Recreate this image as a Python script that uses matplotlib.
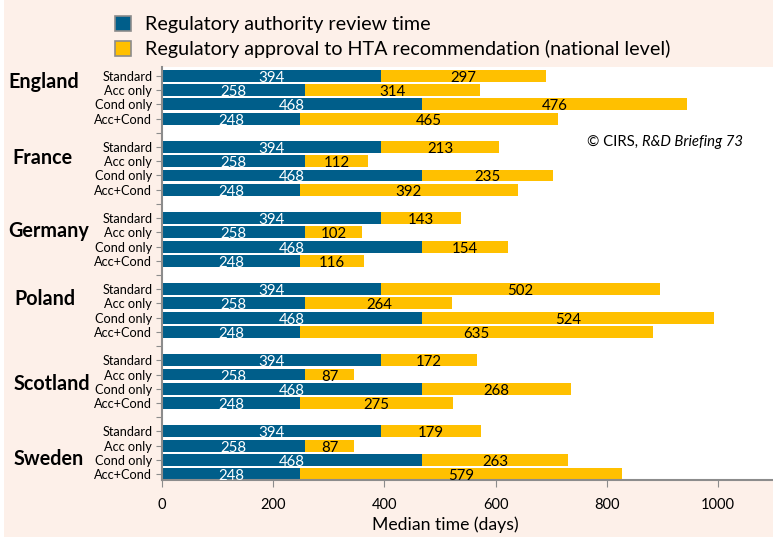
import matplotlib
matplotlib.use("Agg")
import matplotlib.pyplot as plt
import matplotlib.transforms as mtransforms
from matplotlib.patches import Patch, Rectangle

plt.rcParams['font.family'] = ['Lato', 'DejaVu Sans']

countries = ["England", "France", "Germany", "Poland", "Scotland", "Sweden"]
approval_types = ["Standard", "Acc only", "Cond only", "Acc+Cond"]
review_time = [394, 258, 468, 248]
hta_time = {
    "England": [297, 314, 476, 465],
    "France": [213, 112, 235, 392],
    "Germany": [143, 102, 154, 116],
    "Poland": [502, 264, 524, 635],
    "Scotland": [172, 87, 268, 275],
    "Sweden": [179, 87, 263, 579],
}
xticks = [0, 200, 400, 600, 800, 1000]

BLUE = "#005E8A"
GOLD = "#FFC000"
PEACH = "#FDF0E9"
GREY = "#8C8C8C"

fig = plt.figure(figsize=(7.73, 5.37), dpi=100, facecolor=PEACH)
# thin white strip on the left edge
fig.patches.append(Rectangle((0, 0), 4 / 773, 1, transform=fig.transFigure,
                             facecolor="white", edgecolor="none"))
ax = fig.add_axes([162 / 773, 1 - 480 / 537, 1 - 162 / 773, (480 - 67) / 537])
ax.set_facecolor("white")

# country label positions (figure px for x, row units for y)
label_y = [0.4, 5.8, 10.9, 15.7, 21.7, 26.95]
label_x = [8, 12, 8, 14, 14, 14]
country_trans = mtransforms.blended_transform_factory(fig.transFigure, ax.transData)

ypos, ylabels = [], []
for g, c in enumerate(countries):
    for i, t in enumerate(approval_types):
        y = g * 5 + i
        b = review_time[i]
        h = hta_time[c][i]
        ax.barh(y, b, height=0.84, color=BLUE)
        ax.barh(y, h, left=b, height=0.84, color=GOLD)
        ax.text(b / 2, y + 0.14, str(b), ha="center", va="center", color="white", fontsize=10.8)
        ax.text(b + h / 2, y + 0.14, str(h), ha="center", va="center", color="black", fontsize=10.8)
        ypos.append(y)
        ylabels.append(t)
    if g < len(countries) - 1:
        ypos.append(g * 5 + 4)
        ylabels.append("")
    ax.text(label_x[g] / 773, label_y[g], c, fontsize=14.2, fontweight="bold",
            va="center", ha="left", transform=country_trans)

ax.set_yticks(ypos)
ax.set_yticklabels(ylabels, fontsize=9.2)
ax.set_ylim(28.42, -0.63)
ax.set_xlim(0, 1099)
ax.set_xticks(xticks)
ax.tick_params(axis="x", labelsize=10.5, colors=GREY, labelcolor="black", length=5, pad=8)
ax.tick_params(axis="y", colors=GREY, labelcolor="black", length=4, pad=3)
ax.spines["top"].set_visible(False)
ax.spines["right"].set_visible(False)
for s in ("left", "bottom"):
    ax.spines[s].set_color(GREY)
    ax.spines[s].set_linewidth(1.5)
ax.set_xlabel("Median time (days)", fontsize=12.7)
ax.xaxis.set_label_coords((445 - 162) / 611, -(525 - 480) / 413)
ax.xaxis.label.set_va("center")

handles = [Patch(facecolor=BLUE, edgecolor=GREY, linewidth=1.2),
           Patch(facecolor=GOLD, edgecolor=GREY, linewidth=1.2)]
fig.legend(handles, ["Regulatory authority review time",
                     "Regulatory approval to HTA recommendation (national level)"],
           loc="upper left", bbox_to_anchor=(97 / 773, 1 + 2 / 537), frameon=False,
           fontsize=14.2, handlelength=0.8, handleheight=0.8, handletextpad=0.75,
           labelspacing=0.35)

t1 = fig.text(587 / 773, 1 - 142 / 537, "\u00a9 CIRS, ", fontsize=10.7, va="center", ha="left")
ax.annotate("R&D Briefing 73", xy=(1, 0.5), xycoords=t1, va="center", ha="left",
            fontsize=10.7, style="italic")

fig.savefig("out.png", dpi=100, facecolor=PEACH)
